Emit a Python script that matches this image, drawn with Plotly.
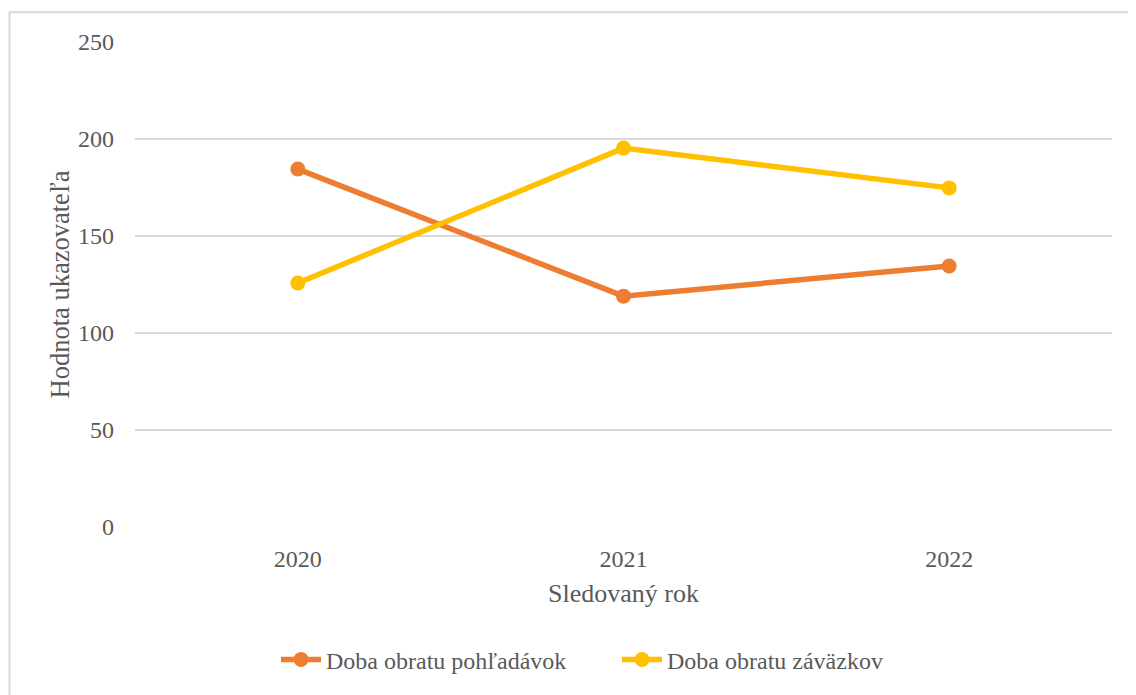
import plotly.graph_objects as go

years = ["2020", "2021", "2022"]
pohladavky = [184.5, 119.0, 134.5]
zavazky = [125.8, 195.3, 174.8]

# page body has an 8px margin, so the figure sits at (8, 8)
OFF = 8
W, H = 1128, 687
PL, PR, PT, PB = 135, 1112, 42, 531  # plot area in page pixels
L, T = PL - OFF, PT - OFF
R = W + OFF - PR
B = H + OFF - PB
pw, ph = PR - PL, PB - PT

font_family = "Liberation Serif, Times New Roman, serif"
gray = "#595959"

fig = go.Figure()
fig.add_trace(go.Scatter(x=years, y=pohladavky, mode="lines+markers",
                         name="Doba obratu pohľadávok",
                         line=dict(color="#ED7D31", width=5.5),
                         marker=dict(size=15, color="#ED7D31")))
fig.add_trace(go.Scatter(x=years, y=zavazky, mode="lines+markers",
                         name="Doba obratu záväzkov",
                         line=dict(color="#FFC000", width=5.5),
                         marker=dict(size=15, color="#FFC000")))

def px_x(p):
    return (p - PL) / pw

def px_y(p):
    return (PB - p) / ph

fig.add_shape(type="rect", xref="paper", yref="paper",
              x0=px_x(9.5), x1=px_x(1150), y0=px_y(12), y1=px_y(710),
              line=dict(color="#d9d9d9", width=2), fillcolor="rgba(0,0,0,0)",
              layer="below")

fig.update_layout(
    width=W, height=H,
    margin=dict(l=L, r=R, t=T, b=B),
    paper_bgcolor="white", plot_bgcolor="white",
    font=dict(family=font_family, color=gray, size=24),
    showlegend=True,
    legend=dict(orientation="h", x=px_x(276), xanchor="left", y=px_y(665), yanchor="middle",
                font=dict(size=24, color=gray), itemwidth=40,
                entrywidth=286, entrywidthmode="pixels"),
    xaxis=dict(type="category", range=[-0.5, 2.5], showgrid=False, zeroline=False,
               showline=False, ticks="", ticklabelstandoff=15,
               tickfont=dict(size=24, color=gray),
               title=dict(text="Sledovaný rok", font=dict(size=26, color=gray), standoff=12)),
    yaxis=dict(range=[0, 250], tickvals=[0, 50, 100, 150, 200, 250],
               showgrid=True, gridcolor="#d9d9d9", gridwidth=2,
               zeroline=False, showline=False, ticks="", ticklabelstandoff=20,
               tickfont=dict(size=24, color=gray),
               title=dict(text="Hodnota ukazovateľa", font=dict(size=26.5, color=gray), standoff=0)),
)

fig.write_html("out.html")
